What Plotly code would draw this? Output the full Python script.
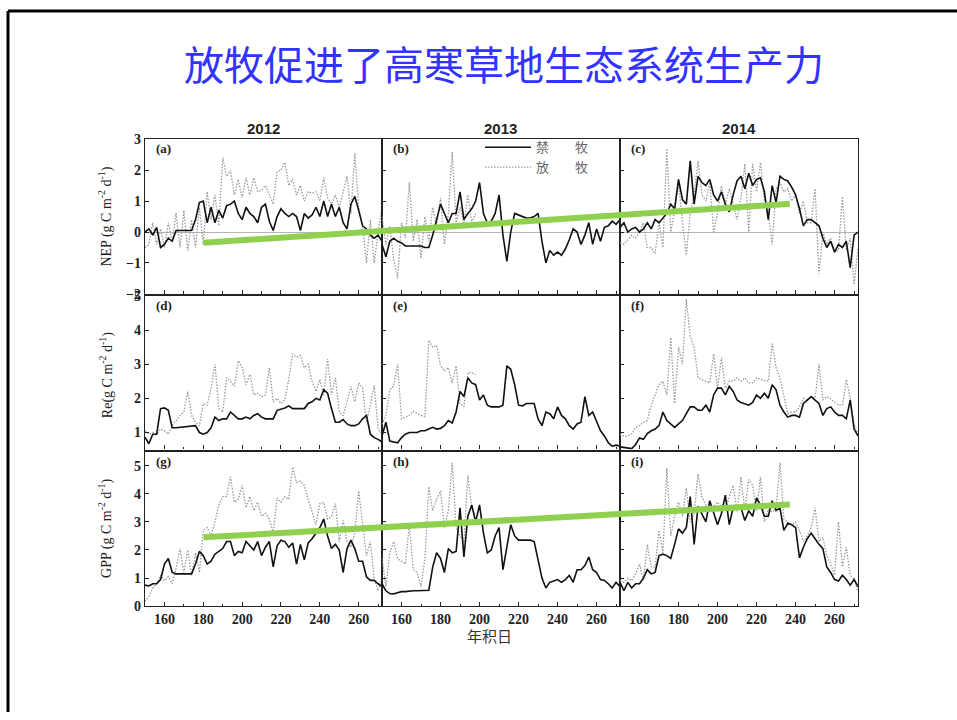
import plotly.graph_objects as go

# ---------------- data ----------------
DAYS = list(range(150, 273, 2))          # day of year, every 2nd day
YEARS = ["2012", "2013", "2014"]
X_TICKS = [160, 180, 200, 220, 240, 260]
NEP_TICKS = [-2, -1, 0, 1, 2, 3]
RE_TICKS = [1, 2, 3, 4, 5]
GPP_TICKS = [0, 1, 2, 3, 4, 5]
SERIES_NAMES = ["禁　　牧", "放　　牧"]   # fenced, grazed

NEP_FENCED_2012 = [0.0, 0.1, -0.1, 0.15, -0.5, -0.4, -0.2, -0.3, 0.05, 0.05,
                   0.05, 0.05, 0.05, 0.4, 0.95, 1.0, 0.3, 0.8, 0.3, 0.7,
                   0.45, 0.85, 0.9, 1.0, 0.6, 0.4, 0.8, 0.6, 0.5, 0.3,
                   0.8, 0.9, 0.35, 0.05, 0.5, 0.75, 0.6, 0.5, 0.6, 0.5,
                   0.05, 0.6, 0.45, 0.55, 0.8, 0.5, 1.0, 0.5, 0.9, 0.5,
                   0.8, 0.3, 0.1, 0.9, 1.15, 0.7, 0.2, 0.1, -0.1, -0.2,
                   -0.1, -0.3]
NEP_GRAZED_2012 = [-0.5, -0.4, 0.3, -0.4, 0.1, -0.5, 0.3, -0.3, 0.6, -0.5,
                   0.7, -0.6, 0.4, -0.5, 0.8, -0.4, 1.3, 0.4, 1.2, 0.2,
                   2.4, 1.8, 2.0, 1.2, 1.7, 1.1, 1.75, 1.2, 1.75, 1.3,
                   1.35, 1.5, 1.2, 0.9, 1.95, 2.0, 2.25, 1.5, 1.7, 1.2,
                   1.5, 1.0, 1.3, 1.25, 1.3, 1.0, 1.75, 1.1, 0.9, 1.2,
                   0.8, 1.35, 1.8, 0.6, 2.55, 0.8, 0.2, -1.0, 0.4, -1.0,
                   0.0, 0.8]
NEP_FENCED_2013 = [-0.4, -0.8, -0.3, -0.2, -0.3, -0.35, -0.45, -0.45, -0.45, -0.45,
                   -0.45, -0.5, -0.5, -0.1, 0.4, 0.9, 0.6, 0.3, 0.6, 0.6,
                   1.3, 0.4, 0.6, 0.75, 1.0, 1.6, 0.6, 0.3, 0.35, 0.6,
                   1.2, -0.1, -0.95, 0.0, 0.6, 0.55, 0.5, 0.45, 0.45, 0.5,
                   0.6, -0.3, -1.0, -0.6, -0.75, -0.65, -0.75, -0.55, -0.25, 0.1,
                   0.0, -0.4, -0.1, 0.3, -0.4, 0.1, -0.3, 0.15, 0.2, 0.35,
                   0.25, 0.4]
NEP_GRAZED_2013 = [0.5, -0.4, 0.2, -0.9, -1.5, 0.3, -0.2, 1.6, -0.3, 0.4,
                   -0.85, 0.5, -0.3, 0.8, 0.2, 1.1, -0.4, 0.6, 2.6, 0.3,
                   0.8, 0.3, 1.2, 0.3, 0.6]
NEP_FENCED_2014 = [0.15, 0.3, 0.0, 0.1, 0.15, 0.0, 0.1, 0.3, 0.1, 0.4,
                   0.3, 0.45, 0.6, 0.9, 0.75, 1.7, 1.05, 0.9, 2.3, 0.9,
                   1.8, 1.6, 1.5, 1.7, 1.2, 1.0, 1.3, 0.9, 0.65, 1.2,
                   1.65, 1.8, 1.4, 1.9, 1.5, 1.7, 1.75, 1.3, 0.4, 1.5,
                   0.95, 1.8, 1.7, 1.65, 1.45, 1.2, 0.75, 0.2, 0.4, 0.4,
                   0.3, 0.2, -0.2, -0.5, -0.3, -0.65, -0.4, -0.5, -0.3, -1.15,
                   -0.1, 0.0]
NEP_GRAZED_2014 = [-0.35, -0.4, -0.25, -0.1, -0.2, 0.0, 0.3, -0.5, -0.5, -0.7,
                   0.3, -0.5, 2.7, 0.0, 0.7, 1.6, 0.3, -0.75, 0.6, 1.2,
                   2.3, 1.2, 1.0, 1.6, 0.0, 0.6, 1.5, 0.9, 1.4, 0.9,
                   0.4, 1.1, 2.2, 0.0, 2.2, 1.3, 2.25, 1.0, 0.6, -0.4,
                   1.4, 1.6, 1.3, 1.4, 1.0, 1.2, 0.6, 1.0, 0.3, 0.3,
                   1.4, -1.35, 0.0, -0.4, -0.2, -0.6, -0.6, 1.15, -0.6, -0.2,
                   -1.7, -0.5]

RE_FENCED_2012 = [0.86, 0.67, 0.95, 0.95, 1.7, 1.72, 1.65, 1.14, 1.14, 1.15,
                  1.18, 1.18, 1.18, 1.2, 1.0, 0.95, 1.0, 1.14, 1.45, 1.35,
                  1.4, 1.4, 1.6, 1.5, 1.4, 1.4, 1.45, 1.4, 1.5, 1.55,
                  1.45, 1.4, 1.4, 1.4, 1.65, 1.68, 1.72, 1.78, 1.7, 1.7,
                  1.7, 1.7, 1.85, 1.9, 2.0, 1.95, 2.25, 2.15, 1.7, 1.3,
                  1.3, 1.38, 1.25, 1.2, 1.2, 1.25, 1.4, 1.5, 0.95, 0.85,
                  0.8, 0.72]
RE_GRAZED_2012 = [1.05, 0.95, 1.0, 0.95, 1.1, 1.05, 0.95, 1.2, 1.35, 1.5,
                  1.6, 2.2, 1.5, 1.3, 1.2, 1.85, 1.8, 2.3, 3.0, 1.7,
                  1.6, 2.6, 2.5, 2.35, 3.1, 2.9, 2.4, 2.7, 2.1, 2.15,
                  2.05, 2.1, 2.9, 1.9, 2.0, 1.85, 1.95, 2.55, 3.3, 3.2,
                  3.25, 2.9, 3.0, 2.5, 2.2, 2.55, 2.1, 3.15, 2.1, 2.6,
                  1.6, 1.5, 1.9, 2.35, 1.9, 2.45, 2.3, 1.3, 1.8, 2.37,
                  1.1, 0.95]
RE_FENCED_2013 = [0.9, 1.3, 0.75, 0.72, 0.7, 0.85, 0.95, 1.0, 1.0, 1.0,
                  1.05, 1.05, 1.1, 1.15, 1.1, 1.12, 1.2, 1.35, 1.28, 1.6,
                  2.2, 2.05, 2.6, 2.45, 2.4, 1.95, 2.1, 1.8, 1.75, 1.75,
                  1.75, 1.8, 2.95, 2.85, 2.4, 1.8, 1.78, 1.85, 1.85, 1.85,
                  1.4, 1.2, 1.6, 1.55, 1.4, 1.75, 1.5, 1.4, 1.2, 1.1,
                  1.25, 1.3, 2.05, 1.5, 1.6, 1.3, 1.05, 0.9, 0.7, 0.6,
                  0.63, 0.6]
RE_GRAZED_2013 = [1.24, 1.5, 2.25, 2.35, 3.0, 1.4, 1.45, 1.5, 1.62, 1.55,
                  1.5, 1.47, 3.7, 3.5, 3.55, 2.95, 2.8, 2.9, 2.45, 2.95,
                  1.85, 1.75, 2.75, 2.75, 2.7]
RE_FENCED_2014 = [0.58, 0.57, 0.56, 0.53, 0.65, 0.84, 0.8, 0.97, 1.05, 1.1,
                  1.2, 1.6, 1.35, 1.25, 1.15, 1.25, 1.35, 1.55, 1.75, 1.75,
                  1.65, 1.65, 1.8, 1.6, 2.1, 2.3, 2.3, 2.1, 2.35, 2.2,
                  1.95, 1.88, 1.85, 1.8, 1.88, 2.1, 2.0, 2.15, 2.0, 2.4,
                  2.25, 1.8, 1.6, 1.45, 1.5, 1.5, 1.45, 1.85, 1.95, 2.05,
                  1.95, 1.85, 1.5, 1.7, 1.75, 1.6, 1.5, 1.5, 1.4, 1.95,
                  1.1, 0.9]
RE_GRAZED_2014 = [0.95, 0.88, 0.9, 0.96, 1.15, 1.2, 1.3, 1.35, 1.8, 2.1,
                  2.4, 2.5, 2.1, 3.78, 1.85, 3.5, 3.0, 4.9, 3.8, 3.5,
                  2.6, 2.55, 2.5, 2.45, 3.3, 2.3, 3.2, 2.3, 2.5, 2.5,
                  2.6, 2.5, 2.6, 2.45, 2.45, 2.6, 2.55, 2.52, 2.5, 3.6,
                  2.9, 2.6, 2.1, 1.55, 1.6, 1.6, 1.75, 2.0, 1.95, 2.05,
                  2.0, 3.0, 1.95, 2.05, 1.98, 1.9, 1.8, 1.8, 2.55, 2.0,
                  1.25, 0.95]

GPP_FENCED_2012 = [0.75, 0.72, 0.8, 0.8, 0.95, 1.5, 1.7, 1.2, 1.15, 1.15,
                   1.15, 1.15, 1.15, 1.5, 1.95, 1.8, 1.5, 1.6, 1.85, 1.95,
                   2.05, 2.3, 2.3, 1.8, 1.95, 1.9, 2.3, 2.15, 2.0, 2.3,
                   1.8, 2.1, 2.3, 1.4, 2.15, 2.35, 2.3, 2.1, 2.25, 1.5,
                   2.2, 1.65, 2.25, 2.4, 2.6, 2.8, 3.1, 2.5, 2.05, 2.2,
                   2.0, 1.2, 2.05, 2.35, 2.05, 1.6, 1.6, 1.05, 0.92, 0.92,
                   0.8, 0.7]
GPP_GRAZED_2012 = [0.17, 0.35, 0.65, 0.8, 1.1, 0.9, 1.05, 0.8, 1.35, 2.05,
                   1.2, 2.0, 1.1, 1.9, 1.2, 2.7, 2.8, 2.5, 3.0, 3.6,
                   3.9, 3.9, 4.6, 3.7, 3.8, 4.3, 3.5, 3.9, 3.4, 3.7,
                   3.2, 3.3, 3.1, 2.6, 3.85, 3.7, 3.9, 3.8, 4.95, 4.4,
                   4.45, 4.3, 3.8, 3.3, 2.9, 3.65, 3.7, 3.1, 3.2, 3.65,
                   2.3, 3.05, 2.3, 2.1, 2.6, 4.1, 2.9, 1.8, 2.3, 0.95,
                   0.55, 1.0]
GPP_FENCED_2013 = [0.8, 0.55, 0.45, 0.44, 0.48, 0.52, 0.52, 0.54, 0.55, 0.55,
                   0.55, 0.55, 0.57, 1.4, 1.9, 1.7, 1.2, 2.05, 1.9, 1.95,
                   3.5, 1.75, 3.2, 3.6, 3.0, 3.6, 2.6, 1.9, 2.0, 2.5,
                   2.8, 1.3, 2.1, 2.9, 2.5, 2.35, 2.35, 2.35, 2.35, 2.3,
                   1.7, 1.0, 0.65, 0.85, 0.9, 0.95, 0.85, 0.95, 1.1, 0.85,
                   1.3, 1.3, 1.45, 1.75, 1.3, 1.2, 0.95, 0.92, 0.8, 0.65,
                   0.85, 0.7]
GPP_GRAZED_2013 = [1.7, 0.7, 1.9, 2.3, 1.7, 1.6, 1.5, 2.9, 1.3, 1.2,
                   0.7, 1.7, 4.25, 3.4, 3.8, 4.1, 2.8, 3.4, 5.1, 2.8,
                   2.5, 2.3, 4.65, 3.5, 3.2]
GPP_FENCED_2014 = [0.86, 0.55, 0.85, 0.65, 0.8, 0.8, 1.0, 1.3, 1.15, 1.2,
                   1.8, 1.85, 1.8, 1.7, 2.2, 2.75, 2.6, 2.8, 3.9, 2.2,
                   3.55, 3.3, 3.0, 3.75, 3.3, 2.9, 3.3, 3.95, 2.9, 3.5,
                   3.5, 3.5, 3.05, 3.4, 3.2, 3.85, 3.6, 3.2, 3.2, 3.75,
                   3.4, 3.5, 2.7, 2.95, 2.9, 2.8, 1.72, 2.1, 2.4, 2.6,
                   2.4, 2.2, 2.05, 1.4, 1.2, 0.95, 0.9, 1.1, 0.95, 0.75,
                   0.95, 0.7]
GPP_GRAZED_2014 = [0.92, 0.85, 1.0, 0.92, 1.15, 1.5, 0.92, 2.2, 1.4, 1.4,
                   2.7, 1.9, 4.9, 2.5, 3.2, 3.7, 3.2, 4.2, 3.0, 3.3,
                   4.7, 3.9, 3.6, 3.45, 3.55, 3.7, 3.5, 3.45, 3.9, 4.3,
                   3.35, 4.6, 3.4, 4.5, 4.3, 3.4, 4.6, 3.0, 3.45, 3.35,
                   3.5, 5.1, 3.1, 3.0, 2.9, 3.0, 2.7, 2.3, 2.5, 2.8,
                   3.5, 2.3, 2.45, 1.8, 1.5, 1.1, 3.0, 1.4, 2.1, 1.1,
                   0.95, 0.5]

# green trend lines: (year index, day of year, value) at both ends
NEP_TREND = [(0, 180, -0.35), (2, 237, 0.91)]
GPP_TREND = [(0, 180, 2.45), (2, 237, 3.62)]

PANELS = [  # rows: NEP, Re, GPP; columns: 2012, 2013, 2014 -> (fenced, grazed)
    [(NEP_FENCED_2012, NEP_GRAZED_2012), (NEP_FENCED_2013, NEP_GRAZED_2013), (NEP_FENCED_2014, NEP_GRAZED_2014)],
    [(RE_FENCED_2012, RE_GRAZED_2012), (RE_FENCED_2013, RE_GRAZED_2013), (RE_FENCED_2014, RE_GRAZED_2014)],
    [(GPP_FENCED_2012, GPP_GRAZED_2012), (GPP_FENCED_2013, GPP_GRAZED_2013), (GPP_FENCED_2014, GPP_GRAZED_2014)],
]
PANEL_LETTERS = ["(a)", "(b)", "(c)", "(d)", "(e)", "(f)", "(g)", "(h)", "(i)"]
Y_TITLES = ["NEP (g C m<sup>-2</sup> d<sup>-1</sup>)",
            "Re(g C m<sup>-2</sup> d<sup>-1</sup>)",
            "GPP (g C m<sup>-2</sup> d<sup>-1</sup>)"]

# ---------------- layout geometry (pixels) ----------------
W, H = 957, 720
def px(x): return x / W
def py(y): return 1 - y / H

COL_EDGES = [145, 382, 620, 858]
ROWS = [(135, 293), (295, 452), (454, 612)]
Y_RANGES = [[-2, 3], [0.5, 5], [0, 5.5]]
Y_TICKS = [NEP_TICKS, RE_TICKS, GPP_TICKS]
X_RANGE = [150, 272]
SPAN = X_RANGE[1] - X_RANGE[0]
Y_TITLE_CENTERS = [214, 376, 533]

SERIF = "Liberation Serif, Times New Roman, serif"
CJK = "Noto Sans CJK SC"

fig = go.Figure()
layout = {}

for r in range(3):
    for c in range(3):
        k = r * 3 + c + 1
        xs = "" if k == 1 else str(k)
        fenced, grazed = PANELS[r][c]
        fig.add_trace(go.Scatter(
            x=DAYS[:len(grazed)], y=grazed, mode="lines",
            line=dict(color="#9a9a9a", width=1.3, dash="1.5px,1.5px"),
            name=SERIES_NAMES[1], legendrank=2, showlegend=(k == 1),
            xaxis="x" + xs, yaxis="y" + xs, hoverinfo="skip"))
        fig.add_trace(go.Scatter(
            x=DAYS[:len(fenced)], y=fenced, mode="lines",
            line=dict(color="#111111", width=1.6),
            name=SERIES_NAMES[0], legendrank=1, showlegend=(k == 1),
            xaxis="x" + xs, yaxis="y" + xs, hoverinfo="skip"))
        layout["xaxis" + xs] = dict(
            domain=[px(COL_EDGES[c]), px(COL_EDGES[c + 1])], range=X_RANGE,
            anchor="y" + xs, showline=True, mirror=True, linecolor="#222",
            linewidth=1.3, ticks="inside", ticklen=4, tickcolor="#222",
            tickmode="array", tickvals=X_TICKS, showticklabels=(r == 2),
            minor=dict(ticks="inside", ticklen=2.5, tickvals=[170, 190, 210, 230, 250, 270],
                       tickcolor="#222"),
            tickfont=dict(family=SERIF, size=14, color="#222", weight="bold"),
            showgrid=False, zeroline=False)
        layout["yaxis" + xs] = dict(
            domain=[py(ROWS[r][1]), py(ROWS[r][0])], range=Y_RANGES[r],
            anchor="x" + xs, showline=True, mirror=True, linecolor="#222",
            linewidth=1.3, ticks="inside", ticklen=4, tickcolor="#222",
            tickmode="array", tickvals=Y_TICKS[r], showticklabels=(c == 0),
            tickfont=dict(family=SERIF, size=14, color="#222", weight="bold"),
            showgrid=False, zeroline=(r == 0), zerolinecolor="#b5b5b5",
            zerolinewidth=1)

# trend lines on a continuous axis spanning the three years
layout["xaxis10"] = dict(domain=[px(COL_EDGES[0]), px(COL_EDGES[3])],
                         range=[0, 3 * SPAN], anchor="y10", visible=False)
layout["yaxis10"] = dict(domain=[py(ROWS[0][1]), py(ROWS[0][0])], range=Y_RANGES[0],
                         anchor="x10", visible=False)
layout["yaxis11"] = dict(domain=[py(ROWS[2][1]), py(ROWS[2][0])], range=Y_RANGES[2],
                         anchor="x10", visible=False)
for trend, ya in ((NEP_TREND, "y10"), (GPP_TREND, "y11")):
    fig.add_trace(go.Scatter(
        x=[yi * SPAN + (d - X_RANGE[0]) for yi, d, v in trend],
        y=[v for yi, d, v in trend], mode="lines",
        line=dict(color="#8fd14f", width=6), showlegend=False,
        xaxis="x10", yaxis=ya, hoverinfo="skip"))


def note(text, x, y, font, **kw):
    d = dict(text=text, x=px(x), y=py(y), xref="paper", yref="paper",
             showarrow=False, xanchor="center", yanchor="middle", font=font)
    d.update(kw)
    return d


ann = [note("放牧促进了高寒草地生态系统生产力", 504, 57,
            dict(family=CJK, size=40, color="#3333FF"))]
for c, yr in enumerate(YEARS):
    ann.append(note(yr, (COL_EDGES[c] + COL_EDGES[c + 1]) / 2, 124,
                    dict(family="Liberation Sans, Arial", size=15, color="#222",
                         weight="bold")))
for r in range(3):
    for c in range(3):
        ann.append(note(PANEL_LETTERS[r * 3 + c], COL_EDGES[c] + 9, ROWS[r][0] + 10,
                        dict(family=SERIF, size=13, color="#222", weight="bold"),
                        xanchor="left"))
    ann.append(note(Y_TITLES[r], 106, Y_TITLE_CENTERS[r],
                    dict(family=SERIF, size=14, color="#222"), textangle=-90))
ann.append(note("年积日", 490, 642, dict(family=CJK, size=15, color="#333")))

shapes = [
    dict(type="line", xref="paper", yref="paper", x0=px(8), x1=1, y0=py(4), y1=py(4),
         line=dict(color="#000", width=3)),
    dict(type="line", xref="paper", yref="paper", x0=px(8), x1=px(8), y0=py(4), y1=0,
         line=dict(color="#000", width=3)),
]

fig.update_layout(
    width=W, height=H, margin=dict(l=0, r=0, t=0, b=0),
    paper_bgcolor="white", plot_bgcolor="rgba(0,0,0,0)",
    annotations=ann, shapes=shapes,
    legend=dict(x=px(480), y=py(128), xanchor="left", yanchor="top",
                bgcolor="rgba(0,0,0,0)", traceorder="normal", tracegroupgap=0,
                itemwidth=46, font=dict(family=CJK, size=13, color="#666")),
    **layout)

fig.write_html("out.html", config={"displayModeBar": False},
               post_script="document.body.style.margin='0';")
